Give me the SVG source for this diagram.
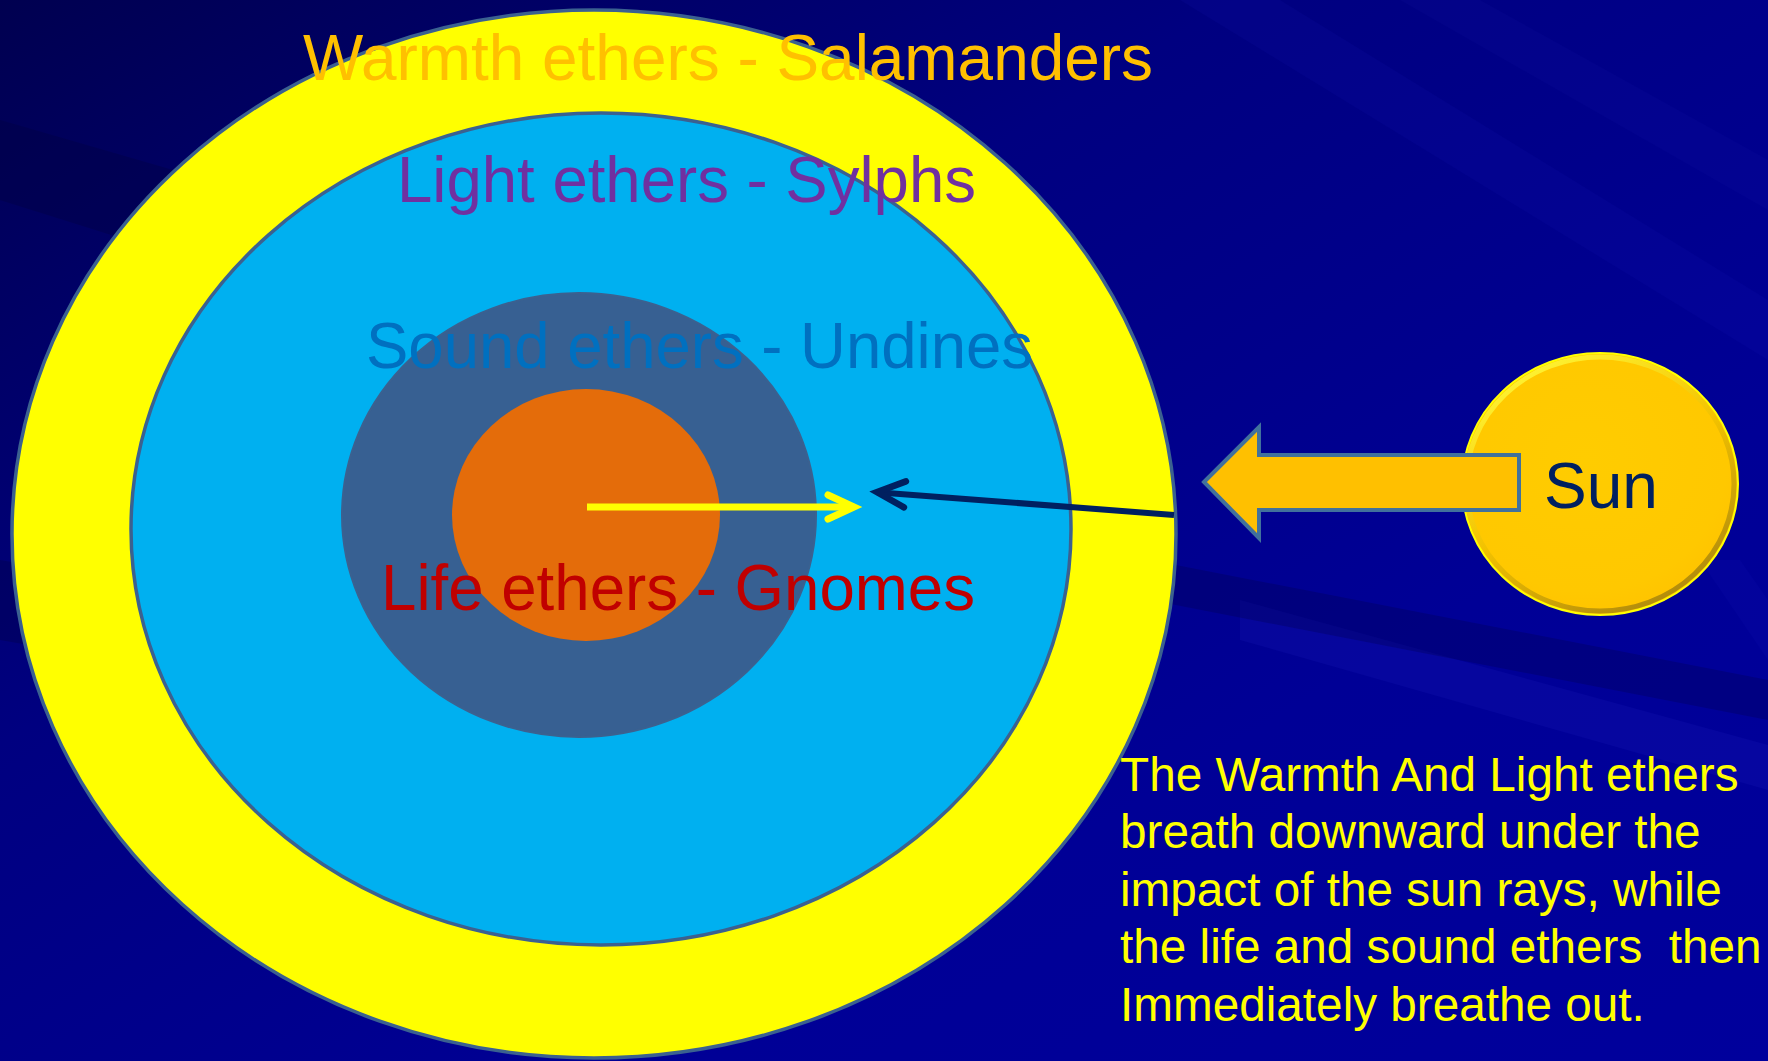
<svg xmlns="http://www.w3.org/2000/svg" width="1768" height="1061" viewBox="0 0 1768 1061">
<defs>
<style>
.ring{stroke:#3B6190;stroke-width:3.5}
.lbl{font-family:"Liberation Sans",Arial,sans-serif;font-size:64px}
.body{font-family:"Liberation Sans",Arial,sans-serif;font-size:47.7px;fill:#FFFF00;white-space:pre}
.ray{fill:#2020C0}
.dray{fill:#000040}
</style>
<linearGradient id="bg" x1="0" y1="0" x2="1" y2="1">
<stop offset="0" stop-color="#000050"/>
<stop offset="0.35" stop-color="#000080"/>
<stop offset="0.7" stop-color="#000096"/>
<stop offset="1" stop-color="#00009C"/>
</linearGradient>
<radialGradient id="sunfill" cx="0.45" cy="0.4" r="0.6">
<stop offset="0" stop-color="#FFCC00"/>
<stop offset="0.85" stop-color="#FFC800"/>
<stop offset="1" stop-color="#FFC400"/>
</radialGradient>
<linearGradient id="sunrim" x1="0.2" y1="0" x2="0.8" y2="1">
<stop offset="0" stop-color="#FFFF40"/>
<stop offset="0.5" stop-color="#F0C000"/>
<stop offset="1" stop-color="#9A7A10"/>
</linearGradient>
<marker id="ya" markerUnits="userSpaceOnUse" viewBox="-32 -16 36 32" markerWidth="36" markerHeight="32" refX="0" refY="0" orient="auto" overflow="visible">
<path d="M-26,-12 L0,0 L-26,12" fill="none" stroke="#FFFF00" stroke-width="7" stroke-linecap="round" stroke-linejoin="miter"/>
</marker>
<marker id="da" markerUnits="userSpaceOnUse" viewBox="-32 -16 36 32" markerWidth="36" markerHeight="32" refX="0" refY="0" orient="auto" overflow="visible">
<path d="M-28,-13 L0,0 L-28,13" fill="none" stroke="#002060" stroke-width="6.5" stroke-linecap="round" stroke-linejoin="miter"/>
</marker>
</defs>

<g id="background">
<rect x="0" y="0" width="1768" height="1061" fill="url(#bg)"/>
<polygon class="dray" opacity="0.35" points="0,120 0,200 700,420 900,380"/>
<polygon class="dray" opacity="0.3" points="0,560 0,640 700,760 800,700"/>
<polygon class="ray" opacity="0.18" points="1240,600 1768,745 1768,790 1240,640"/>
<polygon class="ray" opacity="0.10" points="1180,0 1280,0 1768,300 1768,360"/>
<polygon class="ray" opacity="0.08" points="1400,0 1480,0 1768,160 1768,210"/>
<polygon class="dray" opacity="0.25" points="1150,560 1768,680 1768,720 1150,600"/>
<polygon class="ray" opacity="0.10" points="1700,560 1740,560 1768,600 1768,660"/>
</g>

<g id="warmth">
<ellipse class="ring" cx="594" cy="534" rx="582" ry="524" fill="#FFFF00"/>
</g>
<g id="light">
<ellipse class="ring" cx="601" cy="529" rx="470" ry="416" fill="#00B0F0"/>
</g>
<g id="sound">
<ellipse cx="579" cy="515" rx="237" ry="222" fill="#376092" stroke="#3B6190" stroke-width="2"/>
</g>
<g id="life">
<ellipse cx="586" cy="515" rx="134" ry="126" fill="#E46C0A"/>
</g>

<g id="sun">
<ellipse cx="1600" cy="484" rx="138" ry="131" fill="url(#sunfill)" stroke="#FFFF00" stroke-width="2"/>
<ellipse cx="1600" cy="484" rx="134" ry="127" fill="none" stroke="url(#sunrim)" stroke-width="5" opacity="0.85"/>
<text class="lbl" x="1544" y="508" fill="#002060" font-size="62">Sun</text>
</g>

<g id="connectors">
<polygon points="1204,482 1259,427 1259,455 1519,455 1519,510 1259,510 1259,538" fill="#FFC000" stroke="#41719C" stroke-width="4" stroke-linejoin="miter"/>
<line x1="587" y1="507" x2="854" y2="507" stroke="#FFFF00" stroke-width="7" marker-end="url(#ya)"/>
<line x1="1174" y1="515" x2="877" y2="492.2" stroke="#002060" stroke-width="6" marker-end="url(#da)"/>
</g>

<g id="labels">
<text class="lbl" x="303" y="80" fill="#FFC000" textLength="850" lengthAdjust="spacingAndGlyphs">Warmth ethers - Salamanders</text>
<text class="lbl" x="397" y="202" fill="#7030A0" textLength="579" lengthAdjust="spacingAndGlyphs">Light ethers - Sylphs</text>
<text class="lbl" x="366" y="368" fill="#0070C0" textLength="667" lengthAdjust="spacingAndGlyphs">Sound ethers - Undines</text>
<text class="lbl" x="381" y="610" fill="#C00000" textLength="594" lengthAdjust="spacingAndGlyphs">Life ethers - Gnomes</text>
</g>

<g id="description">
<text class="body" xml:space="preserve"><tspan x="1120" y="791">The Warmth And Light ethers</tspan><tspan x="1120" y="848">breath downward under the</tspan><tspan x="1120" y="906">impact of the sun rays, while</tspan><tspan x="1120" y="963">the life and sound ethers  then</tspan><tspan x="1120" y="1021">Immediately breathe out.</tspan></text>
</g>
</svg>
